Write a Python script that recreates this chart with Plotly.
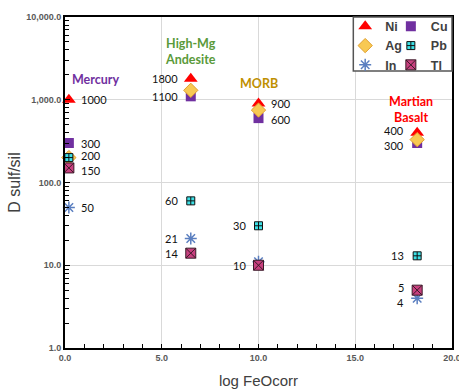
import plotly.graph_objects as go
import math

# Sulfide/silicate partition coefficients for four silicate melt settings
settings = ["Mercury", "High-Mg Andesite", "MORB", "Martian Basalt"]
log_feo = [0.2, 6.5, 10.0, 18.2]

d_ni = [1000, 1800, 900, 400]
d_cu = [300, 1100, 600, 300]
d_ag = [200, 1300, 750, 330]
d_pb = [200, 60, 30, 13]
d_in = [50, 21, 11, 4]
d_tl = [150, 14, 10, 5]

y_tickvals = [1, 10, 100, 1000, 10000]
y_ticktext = ["1.0", "10.0", "100.0", "1,000.0", "10,000.0"]

# (element, values, legend, marker style)
series = [
    ("Ni", d_ni, "legend", dict(symbol="triangle-up", size=12, color="#FF0000",
                                line=dict(width=0))),
    ("Cu", d_cu, "legend2", dict(symbol="square", size=10, color="#7030A0",
                                 line=dict(width=0))),
    ("Ag", d_ag, "legend", dict(symbol="diamond", size=11, color="#F8C953",
                                line=dict(width=1, color="#E0A030"))),
    ("Pb", d_pb, "legend2", dict(symbol="square-cross", size=8, color="#3CE0E6",
                                 line=dict(width=1, color="#111111"))),
    ("In", d_in, "legend", dict(symbol="asterisk-open", size=10, color="#5B7FC0",
                                line=dict(width=1.5, color="#5B7FC0"))),
    ("Tl", d_tl, "legend2", dict(symbol="square-x", size=10, color="#C8407F",
                                 line=dict(width=1, color="#3A1A28"))),
]

fig = go.Figure()
for name, vals, leg, mk in series:
    fig.add_trace(go.Scatter(
        x=log_feo, y=vals, mode="markers", name=name, marker=mk,
        legend=leg, cliponaxis=False,
    ))

# Value labels: (setting index, element values, side, vertical nudge in px)
labels = [
    (0, d_ni, "r", 0), (0, d_cu, "r", 0), (0, d_pb, "r", 2), (0, d_tl, "r", -3),
    (0, d_in, "r", 0),
    (1, d_ni, "l", 0), (1, d_cu, "l", 0), (1, d_pb, "l", 0), (1, d_in, "l", 0),
    (1, d_tl, "l", 0),
    (2, d_ni, "r", 0), (2, d_cu, "r", -1), (2, d_pb, "l", 0), (2, d_tl, "l", 0),
    (3, d_ni, "l", 2), (3, d_cu, "l", -2), (3, d_pb, "l", 0), (3, d_tl, "l", 3),
    (3, d_in, "l", -4),
]
for i, vals, side, dy in labels:
    v = vals[i]
    fig.add_annotation(
        x=log_feo[i], y=math.log10(v), text=f"{v:g}", showarrow=False,
        xanchor="left" if side == "r" else "right",
        xshift=10 if side == "r" else -11, yshift=dy,
        font=dict(family="Lato", size=11, color="#111111"),
    )

# Setting names
names = [
    ("Mercury", 0.25, 3.25, "left", "#7030A0"),
    ("High-Mg<br>Andesite", 6.5, 3.58, "center", "#5A9A3A"),
    ("MORB", 10.0, 3.2, "center", "#BF9000"),
    ("Martian<br>Basalt", 17.9, 2.88, "center", "#FF0000"),
]
for txt, x, y, anchor, col in names:
    fig.add_annotation(
        x=x, y=y, text=txt, showarrow=False, xanchor=anchor,
        font=dict(family="Lato", size=12.5, color=col, weight="bold"),
    )

# Legend frame
fig.add_shape(type="rect", xref="paper", yref="paper", x0=0.745, x1=1.0,
              y0=0.837, y1=1.0, line=dict(color="#555555", width=1.5),
              fillcolor="white", layer="above")

axis_font = dict(family="Liberation Sans", size=9, color="#595959", weight="bold")
legend_font = dict(family="Liberation Sans", size=12.5, color="#404040", weight="bold")

fig.update_layout(
    width=459, height=390,
    margin=dict(l=65, r=7, t=17, b=42, autoexpand=False),
    paper_bgcolor="white", plot_bgcolor="white",
    legend=dict(x=0.724, y=1.016, xanchor="left", yanchor="top", font=legend_font,
                bgcolor="rgba(0,0,0,0)", itemwidth=30, tracegroupgap=0),
    legend2=dict(x=0.842, y=1.016, xanchor="left", yanchor="top", font=legend_font,
                 bgcolor="rgba(0,0,0,0)", itemwidth=30, tracegroupgap=0),
    xaxis=dict(
        range=[0, 20], dtick=5, tickformat=".1f", tickfont=axis_font,
        ticklabeloverflow="allow",
        showgrid=True, gridcolor="#D9D9D9", gridwidth=1,
        showline=True, linecolor="black", linewidth=2, mirror=True,
        ticks="inside", ticklen=4, tickcolor="black",
        minor=dict(dtick=1, ticks="inside", ticklen=4, tickcolor="black", showgrid=False),
        zeroline=False,
        title=dict(text="log FeOcorr", font=dict(family="Liberation Sans", size=15,
                                                  color="#404040"), standoff=14),
    ),
    yaxis=dict(
        type="log", range=[0, 4], tickvals=y_tickvals, ticktext=y_ticktext,
        tickfont=axis_font, ticklabeloverflow="allow",
        showgrid=True, gridcolor="#D9D9D9", gridwidth=1,
        showline=True, linecolor="black", linewidth=2, mirror=True,
        ticks="inside", ticklen=5, tickcolor="black",
        minor=dict(dtick="D1", ticks="inside", ticklen=4, tickcolor="black", showgrid=False),
        zeroline=False,
        title=dict(text="D sulf/sil", font=dict(family="Liberation Sans", size=16,
                                                 color="#404040"), standoff=2),
    ),
)

fig.write_html("out.html")
